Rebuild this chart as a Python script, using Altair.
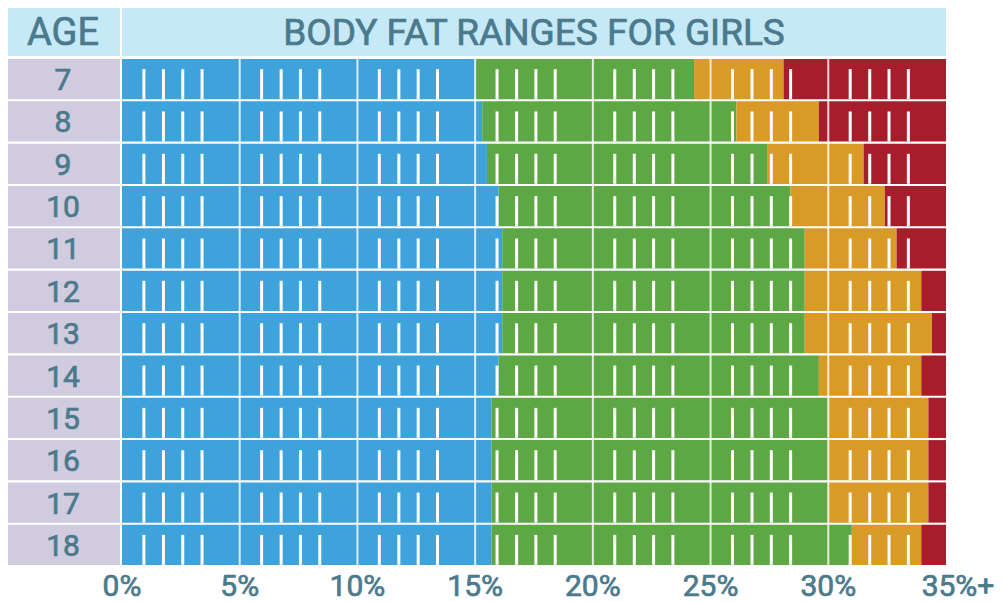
import altair as alt
import pandas as pd

# ---------------- data ----------------
ages = [7, 8, 9, 10, 11, 12, 13, 14, 15, 16, 17, 18]
blue_end = [15.0, 15.3, 15.5, 16.0, 16.15, 16.15, 16.15, 16.0, 15.7, 15.7, 15.7, 15.7]
green_end = [24.3, 26.1, 27.4, 28.4, 29.0, 29.0, 29.0, 29.6, 30.0, 30.0, 30.0, 31.0]
orange_end = [28.1, 29.6, 31.5, 32.4, 32.9, 33.95, 34.4, 33.95, 34.25, 34.25, 34.25, 33.95]
max_pct = 35

zones = ["Underfat", "Healthy", "Overweight", "Obese"]
zone_colors = ["#3fa3db", "#5da844", "#da9a26", "#a81d2b"]

axis_values = [0, 5, 10, 15, 20, 25, 30, 35]
axis_labels = ["0%", "5%", "10%", "15%", "20%", "25%", "30%", "35%+"]
grid_values = [5, 10, 15, 20, 25, 30]
minor_offsets = [0.93, 1.76, 2.58, 3.4]

header_age = ["AGE"]
header_title = ["BODY FAT RANGES FOR GIRLS"]

TEXT = "#4b7a8c"
HEAD_BG = "#c6e9f8"
AGE_BG = "#d0cbdf"
FONT = "Roboto"
SW = 0.7  # thin outline to give the regular face a medium weight

# ---------------- tables ----------------
rows = []
for i, a in enumerate(ages):
    bounds = [0, blue_end[i], green_end[i], orange_end[i], max_pct]
    for k, z in enumerate(zones):
        rows.append({"age": a, "zone": z, "start": bounds[k], "end": bounds[k + 1]})
seg_df = pd.DataFrame(rows)

tick_df = pd.DataFrame(
    [{"age": a, "pos": s + o} for a in ages for s in axis_values[:-1] for o in minor_offsets]
)
grid_df = pd.DataFrame({"pos": grid_values})
age_df = pd.DataFrame({"age": ages})
lab_df = pd.DataFrame({"pos": axis_values, "label": axis_labels})

BODY_W, BODY_H = 824, 506
AGE_W, HEAD_H = 114, 50

x_scale = alt.Scale(domain=[0, max_pct], nice=False, zero=False)
y_scale = alt.Scale(domain=ages, paddingInner=0.05, paddingOuter=0)

bands = alt.Chart(seg_df).mark_rect().encode(
    x=alt.X("start:Q", scale=x_scale, axis=None),
    x2="end:Q",
    y=alt.Y("age:O", scale=y_scale, axis=None),
    color=alt.Color("zone:N", scale=alt.Scale(domain=zones, range=zone_colors), legend=None),
)

ticks = alt.Chart(tick_df).mark_tick(color="white", thickness=3, size=30, yOffset=5, opacity=1).encode(
    x=alt.X("pos:Q", scale=x_scale),
    y=alt.Y("age:O", scale=y_scale, axis=None),
)

grid = alt.Chart(grid_df).mark_rule(color="white", strokeWidth=2, opacity=0.8).encode(
    x=alt.X("pos:Q", scale=x_scale),
)

lab_style = dict(fontSize=30, color=TEXT, font=FONT, stroke=TEXT, strokeWidth=SW,
                 baseline="alphabetic", align="center")
labels_main = alt.Chart(lab_df).transform_filter("datum.pos < 35").mark_text(**lab_style).encode(
    x=alt.X("pos:Q", scale=x_scale), y=alt.value(BODY_H + 31), text="label:N"
)
labels_last = alt.Chart(lab_df).transform_filter("datum.pos >= 35").mark_text(dx=12, **lab_style).encode(
    x=alt.X("pos:Q", scale=x_scale), y=alt.value(BODY_H + 31), text="label:N"
)

body = alt.layer(bands, ticks, grid, labels_main, labels_last).properties(width=BODY_W, height=BODY_H)

age_rect = alt.Chart(age_df).mark_rect(color=AGE_BG).encode(
    y=alt.Y("age:O", scale=y_scale, axis=None),
    x=alt.value(0),
    x2=alt.value(AGE_W),
)
age_text = alt.Chart(age_df).mark_text(
    fontSize=30, color=TEXT, font=FONT, stroke=TEXT, strokeWidth=SW,
    baseline="alphabetic", dy=11, align="center"
).encode(
    y=alt.Y("age:O", scale=y_scale, axis=None),
    x=alt.value(AGE_W / 2),
    text="age:O",
)
age_col = alt.layer(age_rect, age_text).properties(width=AGE_W, height=BODY_H)

age_head = alt.Chart(pd.DataFrame({"label": header_age})).mark_text(
    fontSize=38, color=TEXT, font=FONT, stroke=TEXT, strokeWidth=SW,
    baseline="alphabetic", align="center"
).encode(
    text="label:N", x=alt.value(AGE_W / 2), y=alt.value(39)
).properties(width=AGE_W, height=HEAD_H, view=alt.ViewBackground(fill=HEAD_BG, strokeWidth=0))

title_head = alt.Chart(pd.DataFrame({"label": header_title})).mark_text(
    fontSize=37, color=TEXT, font=FONT, stroke=TEXT, strokeWidth=SW,
    baseline="alphabetic", align="center"
).encode(
    text="label:N", x=alt.value(BODY_W / 2), y=alt.value(39)
).properties(width=BODY_W, height=HEAD_H, view=alt.ViewBackground(fill=HEAD_BG, strokeWidth=0))

top = alt.hconcat(age_head, title_head, spacing=2, bounds="flush")
bottom = alt.hconcat(age_col, body, spacing=2, bounds="flush")

chart = alt.vconcat(top, bottom, spacing=2).properties(
    padding={"left": -2, "top": -2, "right": 0, "bottom": 0}
).configure_view(strokeWidth=0)

chart.save("out.html", embed_options={"renderer": "svg", "actions": False})
